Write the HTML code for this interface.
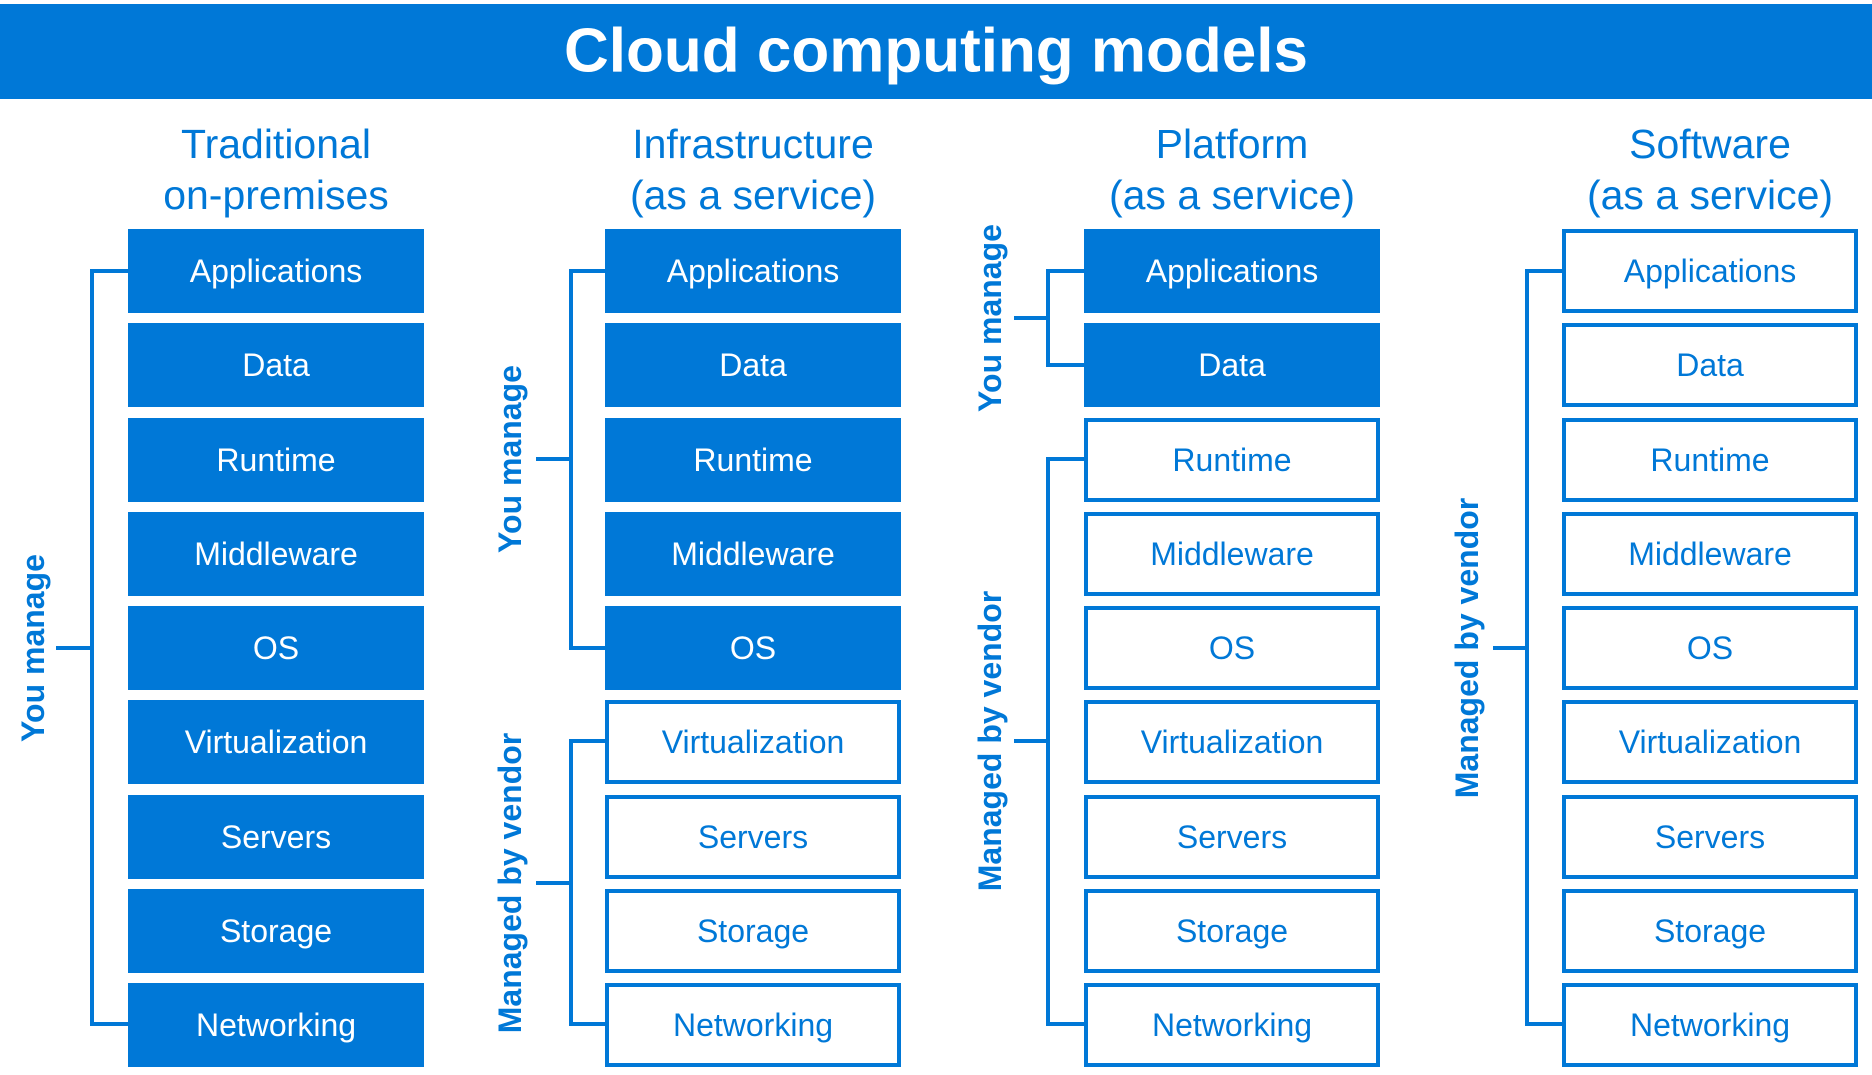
<!DOCTYPE html>
<html><head><meta charset="utf-8"><style>
html,body{margin:0;padding:0;background:#fff;}
svg{display:block;}
text{font-family:"Liberation Sans",Arial,sans-serif;}
.f{fill:#0078d7;}
.o{fill:#fff;stroke:#0078d7;stroke-width:4;}
.tf{fill:#fff;}
.to{fill:#0078d7;}
</style></head><body>
<svg width="1872" height="1075" viewBox="0 0 1872 1075" xmlns="http://www.w3.org/2000/svg">
<rect x="0" y="4" width="1872" height="95" fill="#0078d7"/>
<text x="936" y="51" fill="#fff" font-size="62" font-weight="bold" text-anchor="middle" dominant-baseline="central">Cloud computing models</text>
<g fill="#0078d7" font-size="41" text-anchor="middle" dominant-baseline="central">
<text x="276" y="144">Traditional</text><text x="276" y="195">on-premises</text>
<text x="753" y="144">Infrastructure</text><text x="753" y="195">(as a service)</text>
<text x="1232" y="144">Platform</text><text x="1232" y="195">(as a service)</text>
<text x="1710" y="144">Software</text><text x="1710" y="195">(as a service)</text>
</g>
<g font-size="32" text-anchor="middle" dominant-baseline="central">
<!-- column 1: all filled -->
<g transform="translate(128,0)">
<rect class="f" x="0" y="229" width="296" height="84"/><text class="tf" x="148" y="271">Applications</text>
<rect class="f" x="0" y="323" width="296" height="84"/><text class="tf" x="148" y="365">Data</text>
<rect class="f" x="0" y="418" width="296" height="84"/><text class="tf" x="148" y="460">Runtime</text>
<rect class="f" x="0" y="512" width="296" height="84"/><text class="tf" x="148" y="554">Middleware</text>
<rect class="f" x="0" y="606" width="296" height="84"/><text class="tf" x="148" y="648">OS</text>
<rect class="f" x="0" y="700" width="296" height="84"/><text class="tf" x="148" y="742">Virtualization</text>
<rect class="f" x="0" y="795" width="296" height="84"/><text class="tf" x="148" y="837">Servers</text>
<rect class="f" x="0" y="889" width="296" height="84"/><text class="tf" x="148" y="931">Storage</text>
<rect class="f" x="0" y="983" width="296" height="84"/><text class="tf" x="148" y="1025">Networking</text>
</g>
<!-- column 2: 5 filled -->
<g transform="translate(605,0)">
<rect class="f" x="0" y="229" width="296" height="84"/><text class="tf" x="148" y="271">Applications</text>
<rect class="f" x="0" y="323" width="296" height="84"/><text class="tf" x="148" y="365">Data</text>
<rect class="f" x="0" y="418" width="296" height="84"/><text class="tf" x="148" y="460">Runtime</text>
<rect class="f" x="0" y="512" width="296" height="84"/><text class="tf" x="148" y="554">Middleware</text>
<rect class="f" x="0" y="606" width="296" height="84"/><text class="tf" x="148" y="648">OS</text>
<rect class="o" x="2" y="702" width="292" height="80"/><text class="to" x="148" y="742">Virtualization</text>
<rect class="o" x="2" y="797" width="292" height="80"/><text class="to" x="148" y="837">Servers</text>
<rect class="o" x="2" y="891" width="292" height="80"/><text class="to" x="148" y="931">Storage</text>
<rect class="o" x="2" y="985" width="292" height="80"/><text class="to" x="148" y="1025">Networking</text>
</g>
<!-- column 3: 2 filled -->
<g transform="translate(1084,0)">
<rect class="f" x="0" y="229" width="296" height="84"/><text class="tf" x="148" y="271">Applications</text>
<rect class="f" x="0" y="323" width="296" height="84"/><text class="tf" x="148" y="365">Data</text>
<rect class="o" x="2" y="420" width="292" height="80"/><text class="to" x="148" y="460">Runtime</text>
<rect class="o" x="2" y="514" width="292" height="80"/><text class="to" x="148" y="554">Middleware</text>
<rect class="o" x="2" y="608" width="292" height="80"/><text class="to" x="148" y="648">OS</text>
<rect class="o" x="2" y="702" width="292" height="80"/><text class="to" x="148" y="742">Virtualization</text>
<rect class="o" x="2" y="797" width="292" height="80"/><text class="to" x="148" y="837">Servers</text>
<rect class="o" x="2" y="891" width="292" height="80"/><text class="to" x="148" y="931">Storage</text>
<rect class="o" x="2" y="985" width="292" height="80"/><text class="to" x="148" y="1025">Networking</text>
</g>
<!-- column 4: none filled -->
<g transform="translate(1562,0)">
<rect class="o" x="2" y="231" width="292" height="80"/><text class="to" x="148" y="271">Applications</text>
<rect class="o" x="2" y="325" width="292" height="80"/><text class="to" x="148" y="365">Data</text>
<rect class="o" x="2" y="420" width="292" height="80"/><text class="to" x="148" y="460">Runtime</text>
<rect class="o" x="2" y="514" width="292" height="80"/><text class="to" x="148" y="554">Middleware</text>
<rect class="o" x="2" y="608" width="292" height="80"/><text class="to" x="148" y="648">OS</text>
<rect class="o" x="2" y="702" width="292" height="80"/><text class="to" x="148" y="742">Virtualization</text>
<rect class="o" x="2" y="797" width="292" height="80"/><text class="to" x="148" y="837">Servers</text>
<rect class="o" x="2" y="891" width="292" height="80"/><text class="to" x="148" y="931">Storage</text>
<rect class="o" x="2" y="985" width="292" height="80"/><text class="to" x="148" y="1025">Networking</text>
</g>
</g>
<g stroke="#0078d7" stroke-width="4" fill="none">
<polyline points="128,271 92,271 92,1024 128,1024"/><line x1="56" y1="648" x2="92" y2="648"/>
<polyline points="605,271 571,271 571,648 605,648"/><line x1="536" y1="459" x2="571" y2="459"/>
<polyline points="605,741 571,741 571,1024 605,1024"/><line x1="536" y1="883" x2="571" y2="883"/>
<polyline points="1084,271 1048,271 1048,365 1084,365"/><line x1="1014" y1="318" x2="1048" y2="318"/>
<polyline points="1084,459 1048,459 1048,1024 1084,1024"/><line x1="1014" y1="741" x2="1048" y2="741"/>
<polyline points="1562,271 1527,271 1527,1024 1562,1024"/><line x1="1493" y1="648" x2="1527" y2="648"/>
</g>
<g fill="#0078d7" font-size="32" font-weight="bold" text-anchor="middle" dominant-baseline="central">
<text transform="translate(33,648) rotate(-90)">You manage</text>
<text transform="translate(510,459) rotate(-90)">You manage</text>
<text transform="translate(510,883) rotate(-90)">Managed by vendor</text>
<text transform="translate(990,318) rotate(-90)">You manage</text>
<text transform="translate(990,741) rotate(-90)">Managed by vendor</text>
<text transform="translate(1467,648) rotate(-90)">Managed by vendor</text>
</g>
</svg>
</body></html>
